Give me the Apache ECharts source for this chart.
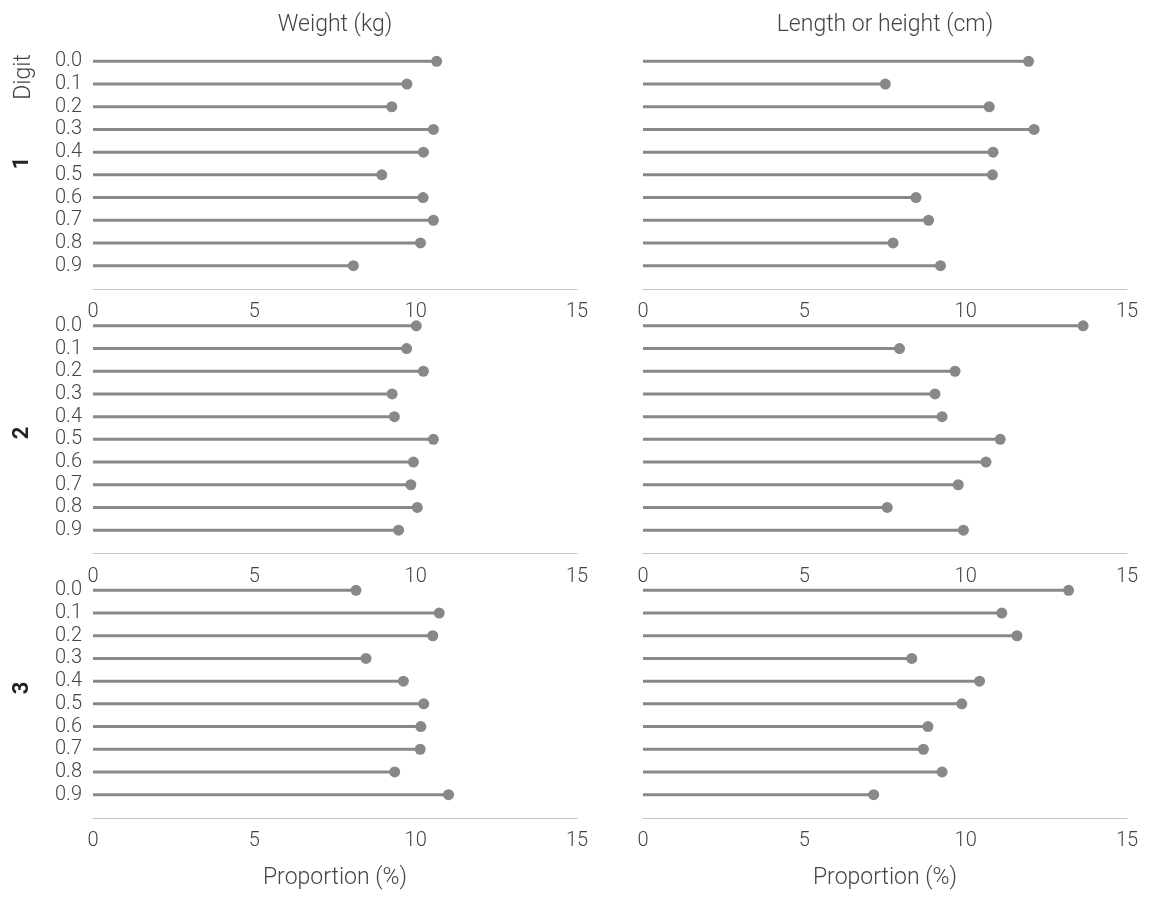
<!DOCTYPE html>
<html>
<head>
<meta charset="utf-8">
<style>
  html, body { margin: 0; padding: 0; background: #fff; }
  #chart { width: 1154px; height: 898px; }
</style>
<script src="https://cdn.jsdelivr.net/npm/echarts@6/dist/echarts.min.js"></script>
</head>
<body>
<div id="chart"></div>
<script>
const digits = ["0.0", "0.1", "0.2", "0.3", "0.4", "0.5", "0.6", "0.7", "0.8", "0.9"]
const rowNames = ["1", "2", "3"]
const colTitles = ["Weight (kg)", "Length or height (cm)"]
const xTicks = [0, 5, 10, 15]

// proportion (%) of each terminal digit, per row (digit position) and column (measure)
const weight1 = [10.65, 9.73, 9.26, 10.55, 10.24, 8.95, 10.23, 10.55, 10.15, 8.07]
const length1 = [11.95, 7.51, 10.73, 12.12, 10.85, 10.83, 8.46, 8.85, 7.75, 9.22]
const weight2 = [10.02, 9.72, 10.24, 9.27, 9.34, 10.55, 9.93, 9.85, 10.05, 9.47]
const length2 = [13.64, 7.95, 9.67, 9.05, 9.27, 11.07, 10.63, 9.77, 7.57, 9.93]
const weight3 = [8.15, 10.73, 10.53, 8.46, 9.62, 10.25, 10.16, 10.14, 9.35, 11.02]
const length3 = [13.19, 11.12, 11.59, 8.33, 10.43, 9.88, 8.83, 8.69, 9.27, 7.15]

const panels = [
  [weight1, length1],
  [weight2, length2],
  [weight3, length3],
]

const font = "Roboto"
const textColor = "#444"
const stemColor = "#888"

const chart = echarts.init(document.getElementById("chart"), null, { renderer: "canvas" })

const grids = []
const xAxes = []
const yAxes = []
const series = []

const rowTops = [50, 314.5, 579]
const colLefts = [93, 643]

panels.forEach((row, r) => {
  row.forEach((values, c) => {
    const i = grids.length
    grids.push({ left: colLefts[c], top: rowTops[r], width: 484, height: 227 })
    xAxes.push({
      gridIndex: i,
      type: "value",
      min: 0,
      max: 15,
      interval: 5,
      offset: 12,
      axisLine: { show: true, lineStyle: { color: "#c4c4c4", width: 1 } },
      axisTick: { show: false },
      splitLine: { show: false },
      axisLabel: {
        color: textColor, fontFamily: font, fontWeight: 300, fontSize: 20, margin: 13,
        formatter: v => (xTicks.includes(v) ? String(v) : ""),
      },
      name: r === 2 ? "Proportion (%)" : "",
      nameLocation: "middle",
      nameGap: 49,
      nameTextStyle: { color: textColor, fontFamily: font, fontWeight: 300, fontSize: 23 },
    })
    yAxes.push({
      gridIndex: i,
      type: "category",
      data: digits,
      inverse: true,
      axisLine: { show: false },
      axisTick: { show: false },
      splitLine: { show: false },
      axisLabel: {
        show: c === 0,
        interval: 0,
        color: textColor, fontFamily: font, fontWeight: 300, fontSize: 20, margin: 11,
      },
    })
    series.push({
      type: "bar",
      xAxisIndex: i,
      yAxisIndex: i,
      data: values,
      barWidth: 3,
      itemStyle: { color: stemColor },
      silent: true,
    })
    series.push({
      type: "scatter",
      xAxisIndex: i,
      yAxisIndex: i,
      data: values,
      symbolSize: 11,
      itemStyle: { color: stemColor, opacity: 1 },
      silent: true,
    })
  })
})

const rowLabelY = [163, 433, 688]
const graphic = [
  {
    type: "text", x: 24, y: 77, rotation: Math.PI / 2,
    style: { text: "Digit", fill: textColor, font: "300 23px Roboto", textAlign: "center", textVerticalAlign: "middle" },
  },
  ...rowNames.map((t, r) => ({
    type: "text", x: 22, y: rowLabelY[r], rotation: Math.PI / 2,
    style: { text: t, fill: "#222", font: "bold 22px Roboto", textAlign: "center", textVerticalAlign: "middle" },
  })),
]

const option = {
  animation: false,
  backgroundColor: "#fff",
  title: colTitles.map((t, c) => ({
    text: t,
    left: colLefts[c] + 237,
    top: 9,
    textAlign: "center",
    textStyle: { color: textColor, fontFamily: font, fontWeight: 300, fontSize: 23 },
  })),
  grid: grids,
  xAxis: xAxes,
  yAxis: yAxes,
  series: series,
  graphic: graphic,
}

chart.setOption(option)
</script>
</body>
</html>
